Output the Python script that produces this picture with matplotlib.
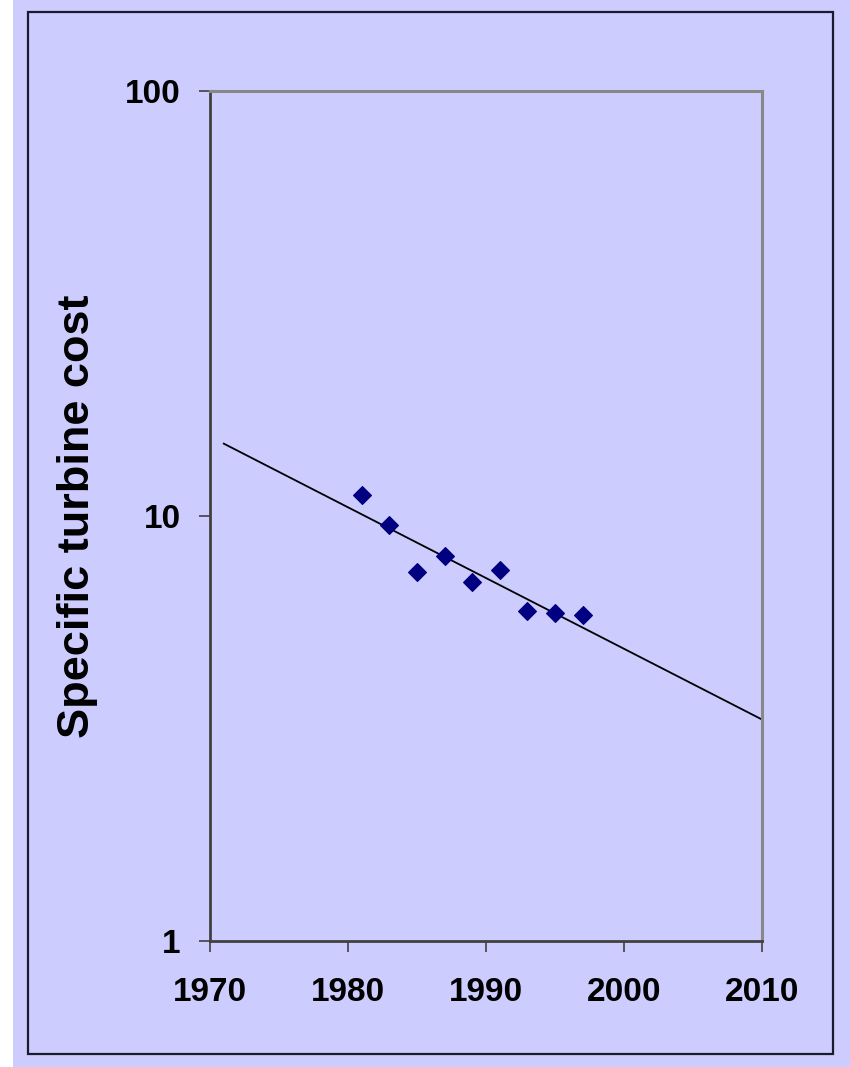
#!/usr/bin/env python3
'''Specific turbine cost vs year, log scale, with trend line.'''
import matplotlib
matplotlib.use('Agg')
import matplotlib.pyplot as plt
from matplotlib.patches import Rectangle

years = [1981, 1983, 1985, 1987, 1989, 1991, 1993, 1995, 1997]
cost = [11.2, 9.5, 7.4, 8.05, 7.0, 7.45, 5.98, 5.9, 5.85]

trend_years = [1971, 2010]
trend_cost = [14.8, 3.32]

x_ticks = [1970, 1980, 1990, 2000, 2010]
y_ticks = [1, 10, 100]
y_tick_labels = ['1', '10', '100']

BG = '#CCCCFF'

plt.rcParams['font.family'] = ['Liberation Sans', 'DejaVu Sans']
plt.rcParams['font.weight'] = 'bold'

fig = plt.figure(figsize=(8.5, 10.67), dpi=100, facecolor=BG)
# white strip on the far left, then the framed chart area
fig.patches.append(Rectangle((0, 0), 13 / 850, 1, transform=fig.transFigure,
                             facecolor='white', edgecolor='none', zorder=0))
fig.patches.append(Rectangle((28 / 850, 1 - 1054 / 1067), (833 - 28) / 850, (1054 - 12) / 1067,
                             transform=fig.transFigure, facecolor='none',
                             edgecolor='#1a1a2a', lw=1.6, zorder=1))

ax = fig.add_axes([210 / 850, 1 - 941 / 1067, 552 / 850, 850 / 1067])
ax.set_facecolor(BG)

ax.plot(trend_years, trend_cost, '-', color='black', lw=1.3, zorder=2)
ax.plot(years, cost, 'D', color='#000080', ms=9.5, mec='#000080', mew=0.8, zorder=3)

ax.set_yscale('log')
ax.set_ylim(1, 100)
ax.set_xlim(1970, 2010)
ax.set_yticks(y_ticks)
ax.set_yticklabels(y_tick_labels)
ax.yaxis.set_minor_locator(matplotlib.ticker.NullLocator())
ax.set_xticks(x_ticks)

ax.tick_params(axis='y', direction='out', length=8, width=1.2, color='#404040',
               labelsize=24, pad=13)
ax.tick_params(axis='x', direction='out', length=8, width=1.2, color='#404040',
               labelsize=24, pad=18)
for lab in ax.get_xticklabels() + ax.get_yticklabels():
    lab.set_fontweight('bold')

for side in ('left', 'bottom'):
    ax.spines[side].set_color('#404040')
    ax.spines[side].set_linewidth(2)
for side in ('top', 'right'):
    ax.spines[side].set_color('#888888')
    ax.spines[side].set_linewidth(2.2)

ax.set_ylabel('Specific turbine cost', fontsize=32.5, fontweight='bold')
ax.yaxis.set_label_coords(-0.203, 0.5)

fig.savefig('out.png', dpi=100, facecolor=BG)
plt.close(fig)
